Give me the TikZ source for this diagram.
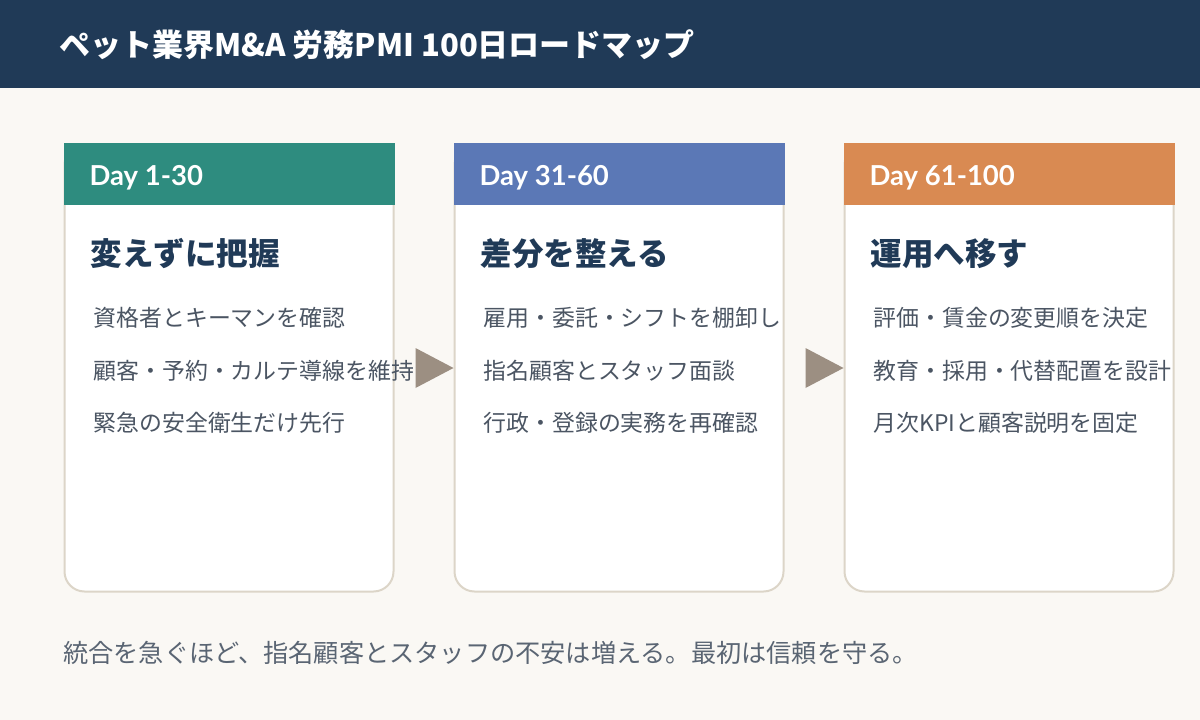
\documentclass[tikz,border=0pt]{standalone}
\usepackage{fontspec}
\setmainfont{Noto Sans CJK JP}
\newfontfamily\latofont{Lato}
\usetikzlibrary{calc}
\definecolor{bgc}{HTML}{FAF8F4}
\definecolor{navy}{HTML}{203A57}
\definecolor{tealc}{HTML}{2E8C7F}
\definecolor{bluec}{HTML}{5B78B6}
\definecolor{orangec}{HTML}{D98A52}
\definecolor{arrowc}{HTML}{9C8F82}
\definecolor{borderc}{HTML}{DCD5C8}
\definecolor{itemc}{HTML}{4B5563}
\definecolor{notec}{HTML}{5A6573}
\tikzset{
  card/.style={draw=borderc, line width=2pt, fill=white, rounded corners=20pt,
    minimum width=329pt, minimum height=447pt, inner sep=0pt},
  hdr/.style={minimum width=331pt, minimum height=62pt, inner sep=0pt, anchor=north},
  daylbl/.style={anchor=base west, inner sep=0pt, text=white,
    font=\latofont\bfseries\fontsize{27.5}{32}\selectfont},
  ctitle/.style={anchor=base west, inner sep=0pt, text=navy,
    font=\bfseries\fontsize{31.5}{37}\selectfont},
  item/.style={anchor=base west, inner sep=0pt, text=itemc,
    font=\fontsize{22.9}{27}\selectfont},
  tri/.style={fill=arrowc, draw=none},
}
\begin{document}
\begin{tikzpicture}[x=1pt,y=-1pt]
\useasboundingbox (0,0) rectangle (1200,720);
\fill[bgc] (0,0) rectangle (1200,720);
\fill[navy] (0,0) rectangle (1200,88);
\node[anchor=base west, inner sep=0pt, text=white, font=\bfseries\fontsize{31}{37}\selectfont]
  (title) at (59,56) {ペット業界M\&A 労務PMI 100日ロードマップ};

% cards
\foreach \i/\cx/\col/\day/\ttl/\a/\b/\c in {
  1/229/tealc/Day 1-30/変えずに把握/資格者とキーマンを確認/顧客・予約・カルテ導線を維持/緊急の安全衛生だけ先行,
  2/619/bluec/Day 31-60/差分を整える/雇用・委託・シフトを棚卸し/指名顧客とスタッフ面談/行政・登録の実務を再確認,
  3/1009/orangec/Day 61-100/運用へ移す/評価・賃金の変更順を決定/教育・採用・代替配置を設計/月次KPIと顧客説明を固定}{
  \node[card] (c\i) at (\cx,368) {};
  \node[hdr, fill=\col] (h\i) at ($(c\i.north)+(0,-1)$) {};
  \node[daylbl] (d\i) at ($(h\i.north west)+(26,42.5)$) {\day};
  \node[ctitle] (t\i) at ($(h\i.north west)+(27,122.5)$) {\ttl};
  \node[item] (ia\i) at ($(h\i.north west)+(30,184)$) {\a};
  \node[item] (ib\i) at ($(h\i.north west)+(30,236.5)$) {\b};
  \node[item] (ic\i) at ($(h\i.north west)+(30,289)$) {\c};
}

% arrows
\fill[tri] ($(c2.west)+(-38,-20)$) -- (c2.west) -- ($(c2.west)+(-38,20)$) -- cycle;
\fill[tri] ($(c3.west)+(-38,-20)$) -- (c3.west) -- ($(c3.west)+(-38,20)$) -- cycle;

\node[anchor=base west, inner sep=0pt, text=notec, font=\fontsize{25.2}{30}\selectfont]
  (note) at (63,662) {統合を急ぐほど、指名顧客とスタッフの不安は増える。最初は信頼を守る。};
\end{tikzpicture}
\end{document}
